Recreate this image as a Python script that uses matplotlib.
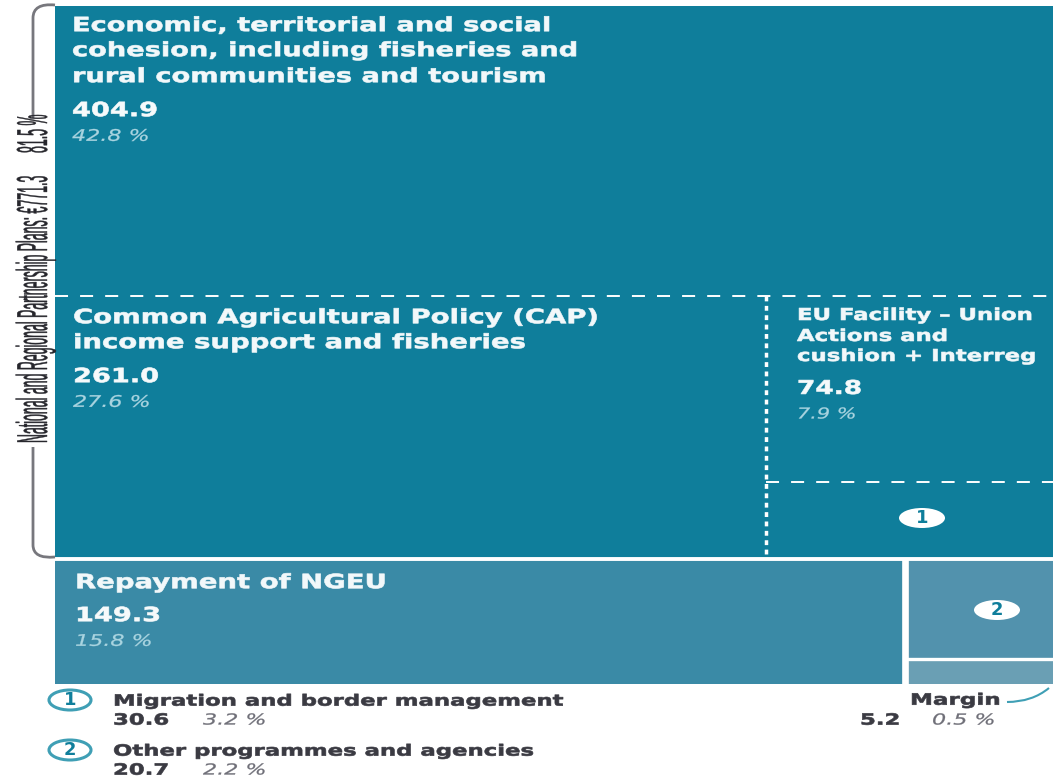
# -*- coding: utf-8 -*-
"""EU budget proposal treemap, layout worked out from the values."""
import matplotlib
matplotlib.use("Agg")
import matplotlib.pyplot as plt
from matplotlib.patches import Ellipse, PathPatch, Rectangle
from matplotlib.path import Path
from matplotlib.patheffects import AbstractPathEffect
from matplotlib.transforms import Affine2D

# Data
cohesion, cap, facility, migration = 404.9, 261.0, 74.8, 30.6
repayment, other, margin = 149.3, 20.7, 5.2
plan_total = 771.3
values = [cohesion, cap, facility, migration, repayment, other, margin]
shares = ["42.8 %", "27.6 %", "7.9 %", "3.2 %", "15.8 %", "2.2 %", "0.5 %"]
names = [
    "Economic, territorial and social\ncohesion, including fisheries and\nrural communities and tourism",
    "Common Agricultural Policy (CAP)\nincome support and fisheries",
    "EU Facility \u2013 Union\nActions and\ncushion + Interreg",
    "Migration and border management",
    "Repayment of NGEU",
    "Other programmes and agencies",
    "Margin",
]
plan_label = f"National and Regional Partnership Plans: \u20ac{plan_total}"
plan_share = "81.5 %"

# Colours
TEAL = "#0f7e9b"
TEAL2 = "#3a8aa6"
TEAL3 = "#5292ad"
TEAL4 = "#6a9fb4"
RING = "#3f9fb5"
PALE = "#a9d4e0"
INK = "#3a3a42"
GREY = "#6f6f78"

W, H = 1053, 780
fig = plt.figure(figsize=(W / 100, H / 100), dpi=100, facecolor="white")

# Treemap axes: x and y run 0-1 over the whole coloured block
left, top, right, bottom = 55, 6, 1053, 684
ax = fig.add_axes([left / W, 1 - bottom / H, (right - left) / W, (bottom - top) / H])
ax.set_xlim(0, 1)
ax.set_ylim(1, 0)
ax.axis("off")

total = sum(values)
top_sum = cohesion + cap + facility + migration
low_sum = repayment + other + margin
y_split = top_sum / total
y_row = y_split * cohesion / top_sum
x_cap = cap / (cap + facility + migration)
y_fac = y_row + (y_split - y_row) * facility / (facility + migration)
x_rep = repayment / low_sum
y_other = y_split + (1 - y_split) * other / (other + margin)


def box(x0, y0, x1, y1, color):
    ax.add_patch(Rectangle((x0, y0), x1 - x0, y1 - y0, facecolor=color, edgecolor="none"))


box(0, 0, 1, y_split, TEAL)
box(0, y_split, x_rep, 1, TEAL2)
box(x_rep, y_split, 1, y_other, TEAL3)
box(x_rep, y_other, 1, 1, TEAL4)

# Separators
dash = (0, (6.7, 6.2))
ax.plot([0, 1], [y_row, y_row], color="white", lw=1.4, ls=dash)
ax.plot([x_cap, 1], [y_fac, y_fac], color="white", lw=1.4, ls=dash)
ax.plot([x_cap, x_cap], [y_row, y_split], color="white", lw=2.5, ls=(0, (1.4, 1.3)))
ax.plot([0, 1], [y_split, y_split], color="white", lw=2.8, solid_capstyle="butt")
ax.plot([x_rep, x_rep], [y_split, 1], color="white", lw=4.8, solid_capstyle="butt")
ax.plot([x_rep, 1], [y_other, y_other], color="white", lw=2.4, solid_capstyle="butt")

# Overlay in pixels for the text and small furniture
ov = fig.add_axes([0, 0, 1, 1], facecolor="none")
ov.set_xlim(0, W)
ov.set_ylim(H, 0)
ov.axis("off")


class Stretch(AbstractPathEffect):
    # the original type is distorted, so scale the glyphs about the text anchor
    def __init__(self, sx=1.0, sy=1.0, stroke=0.0):
        super().__init__()
        self.sx, self.sy, self.stroke = sx, sy, stroke

    def draw_path(self, renderer, gc, tpath, affine, rgbFace=None):
        gc0 = renderer.new_gc()
        gc0.copy_properties(gc)
        if self.stroke:
            gc0.set_foreground(rgbFace)
            gc0.set_linewidth(self.stroke)
        renderer.draw_path(gc0, tpath, Affine2D().scale(self.sx, self.sy) + affine, rgbFace)
        gc0.restore()


def put(x, yc, s, size, color, sy=0.72, weight="bold", style="normal"):
    # size is the width-matching size, yc the middle of the capitals in pixels
    real = size * sy
    base = yc + 0.73 * real * 100 / 72 / 2
    stroke = 0.45 if weight == "bold" else 0.2
    ov.text(x, base, s, color=color, fontsize=real, fontweight=weight, style=style,
            va="baseline", path_effects=[Stretch(sx=1 / sy, stroke=stroke)])


def tile(x, ys, idx, size, val_size, pct_size, y_val, y_pct):
    for line, y in zip(names[idx].split("\n"), ys):
        put(x, y, line, size, "#f2f8fa")
    put(x, y_val, f"{values[idx]:.1f}", val_size, "#f6fafb")
    put(x, y_pct, shares[idx], pct_size, PALE, weight="normal", style="italic")


tile(72, [24, 49, 75], 0, 19.6, 19.6, 16, 109, 135)
tile(73, [316, 341], 1, 19.8, 19.6, 16, 375, 401)
tile(797, [314, 335, 355], 2, 16.4, 19, 15, 387, 413)
tile(75, [581], 4, 19.8, 19.6, 16, 614, 640)


def badge(cx, cy, text, w, h, edge):
    ov.add_patch(Ellipse((cx, cy), w, h, facecolor="white", edgecolor=edge, lw=2.2 if edge != "white" else 0))
    ov.text(cx, cy, text, color=TEAL, fontsize=13, fontweight="bold", ha="center", va="center")


badge(922, 518, "1", 46, 20, "white")
badge(997, 610, "2", 46, 20, "white")
badge(70, 700, "1", 42, 20, RING)
badge(70, 750, "2", 42, 20, RING)

# Footnotes under the treemap
for idx, y in ((3, 700), (5, 750)):
    put(113, y, names[idx], 16.4, INK, sy=0.68)
    put(113, y + 19, f"{values[idx]:.1f}", 16.4, INK, sy=0.68)
    put(203, y + 19, shares[idx], 16, GREY, sy=0.68, weight="normal", style="italic")

put(910, 699, names[6], 16.6, INK, sy=0.68)
put(860, 719, f"{values[6]:.1f}", 16.4, INK, sy=0.68)
put(932, 719, shares[6], 16, GREY, sy=0.68, weight="normal", style="italic")
ov.add_patch(PathPatch(Path([(1007, 702), (1032, 702), (1049, 688)],
                            [Path.MOVETO, Path.CURVE3, Path.CURVE3]),
                       facecolor="none", edgecolor=RING, lw=1.5))

# Bracket and rotated label at the left
bracket = "#77777d"
ov.add_patch(PathPatch(Path([(55, 5), (33, 3), (33, 18), (33, 118)],
                            [Path.MOVETO, Path.CURVE3, Path.CURVE3, Path.LINETO]),
                       facecolor="none", edgecolor=bracket, lw=2))
ov.add_patch(PathPatch(Path([(33, 447), (33, 545), (33, 559), (55, 557)],
                            [Path.MOVETO, Path.LINETO, Path.CURVE3, Path.CURVE3]),
                       facecolor="none", edgecolor=bracket, lw=2))
for s, y in ((plan_label, 443), (plan_share, 153)):
    ov.text(47, y, s, family="Liberation Sans", color="#26262c", fontsize=8.9, rotation=90,
            ha="left", va="baseline", rotation_mode="anchor",
            path_effects=[Stretch(sy=3.5, stroke=0.3)])

fig.savefig("out.png", dpi=100)
